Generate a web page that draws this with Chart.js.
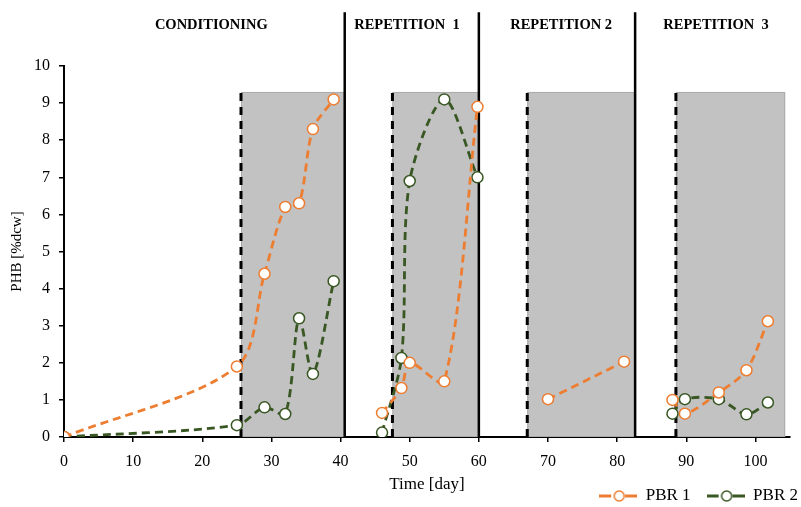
<!DOCTYPE html>
<html>
<head>
<meta charset="utf-8">
<script src="https://cdn.jsdelivr.net/npm/chart.js@4.4.1/dist/chart.umd.min.js"></script>
<style>
  html, body { margin: 0; padding: 0; background: #fff; }
  #wrap { width: 801px; height: 507px; }
</style>
</head>
<body>
<div id="wrap"><canvas id="chart"></canvas></div>
<script>
// measured values (day, PHB %dcw)
const condDays = [0, 25, 29, 32, 34, 36, 39];
const condPbr1 = [0, 1.9, 4.4, 6.2, 6.3, 8.3, 9.1];
const condPbr2 = [0, 0.32, 0.8, 0.62, 3.2, 1.7, 4.2];
const rep1Days = [46, 48.8, 50, 55, 59.8];
const rep1Pbr1 = [0.65, 1.32, 2.0, 1.5, 8.9];
const rep1Pbr2 = [0.12, 2.13, 6.9, 9.1, 7.0];
const rep2Days = [70, 81];
const rep2Pbr1 = [1.02, 2.03];
const rep3Days = [88, 89.8, 94.7, 98.7, 101.8];
const rep3Pbr1 = [1.0, 0.63, 1.2, 1.8, 3.12];
const rep3Pbr2 = [0.63, 1.02, 1.02, 0.61, 0.93];

// phases
const phaseNames = ['CONDITIONING', 'REPETITION  1', 'REPETITION 2', 'REPETITION  3'];
const phaseStart = [25.6, 47.5, 67.0, 88.5];   // dashed lines
const phaseEnd = [40.6, 60, 82.6, 104.3];      // end of grey block
const dividers = [40.6, 60, 82.6];             // solid lines
const shadeTop = 9.3;

const xTicks = [0, 10, 20, 30, 40, 50, 60, 70, 80, 90, 100];
const yTicks = [0, 1, 2, 3, 4, 5, 6, 7, 8, 9, 10];

// where the header texts sit (day, PHB units above the plot)
const labelDays = [21.3, 49.6, 71.9, 94.3];
const labelLevel = 11.1;
const dividerTop = 11.45;

const ORANGE = '#ED7D31';
const GREEN = '#385723';
const FONT = 'Liberation Serif';

// build one series from segments, with null gaps between them
function joinSegments(segs) {
  const out = [];
  segs.forEach((s, i) => {
    if (i > 0) out.push({ x: (out[out.length - 1].x + s[0][0]) / 2, y: null });
    s[0].forEach((d, j) => out.push({ x: d, y: s[1][j] }));
  });
  return out;
}

const pbr1Data = joinSegments([[condDays, condPbr1], [rep1Days, rep1Pbr1], [rep2Days, rep2Pbr1], [rep3Days, rep3Pbr1]]);
const pbr2Data = joinSegments([[condDays, condPbr2], [rep1Days, rep1Pbr2], [rep3Days, rep3Pbr2]]);

// legend symbol: dashed line with open circle
function legendIcon(color) {
  const c = document.createElement('canvas');
  c.width = 38; c.height = 14;
  const g = c.getContext('2d');
  g.strokeStyle = color;
  g.lineWidth = 3;
  g.beginPath(); g.moveTo(0, 7); g.lineTo(12, 7); g.moveTo(26, 7); g.lineTo(38, 7); g.stroke();
  g.lineWidth = 1.5;
  g.fillStyle = '#fff';
  g.beginPath(); g.arc(20, 7, 5, 0, Math.PI * 2); g.fill(); g.stroke();
  return c;
}

const phasePlugin = {
  id: 'phases',
  afterLayout(chart) {
    // push the legend to the right edge like the original
    const lg = chart.legend;
    lg.left += 24; lg.right += 24;
  },
  beforeDatasetsDraw(chart) {
    const { ctx, scales: { x, y } } = chart;
    const y0 = y.getPixelForValue(0);
    const yTop = y.getPixelForValue(shadeTop);
    ctx.save();
    // grey blocks
    phaseStart.forEach((s, i) => {
      const x1 = x.getPixelForValue(s);
      const x2 = x.getPixelForValue(phaseEnd[i]);
      ctx.fillStyle = '#c2c2c2';
      ctx.fillRect(x1, yTop, x2 - x1, y0 - yTop);
      ctx.strokeStyle = '#aaaaaa';
      ctx.lineWidth = 1;
      ctx.strokeRect(x1 + 0.5, yTop + 0.5, x2 - x1 - 1, y0 - yTop - 1);
    });
    // dashed start lines
    ctx.strokeStyle = '#000';
    ctx.lineWidth = 3;
    ctx.setLineDash([8, 6]);
    phaseStart.forEach(s => {
      const px = x.getPixelForValue(s);
      ctx.beginPath(); ctx.moveTo(px, y0); ctx.lineTo(px, yTop); ctx.stroke();
    });
    // solid dividers
    ctx.setLineDash([]);
    ctx.lineWidth = 2.5;
    dividers.forEach(d => {
      const px = x.getPixelForValue(d);
      ctx.beginPath(); ctx.moveTo(px, y0); ctx.lineTo(px, y.getPixelForValue(dividerTop)); ctx.stroke();
    });
    ctx.restore();
  },
  afterDraw(chart) {
    const { ctx, scales: { x, y } } = chart;
    ctx.save();
    ctx.font = 'bold 14.5px "' + FONT + '"';
    ctx.fillStyle = '#000';
    ctx.textAlign = 'center';
    ctx.textBaseline = 'middle';
    phaseNames.forEach((n, i) => {
      ctx.fillText(n, x.getPixelForValue(labelDays[i]), y.getPixelForValue(labelLevel));
    });
    ctx.restore();
  }
};

const lineStyle = (color) => ({
  borderColor: color,
  backgroundColor: color,
  borderWidth: 2.8,
  borderDash: [8, 5],
  tension: 0.3,
  spanGaps: false,
  pointRadius: 5.5,
  pointHoverRadius: 5.5,
  pointBorderWidth: 1.5,
  pointBorderColor: color,
  pointBackgroundColor: '#fff'
});

new Chart(document.getElementById('chart'), {
  type: 'line',
  data: {
    datasets: [
      Object.assign({ label: 'PBR 1', data: pbr1Data }, lineStyle(ORANGE)),
      Object.assign({ label: 'PBR 2', data: pbr2Data }, lineStyle(GREEN))
    ]
  },
  options: {
    responsive: true,
    maintainAspectRatio: false,
    animation: false,
    layout: { padding: { top: 66, left: 0, right: 11, bottom: -7.5 } },
    plugins: {
      tooltip: { enabled: false },
      legend: {
        position: 'bottom',
        align: 'end',
        labels: {
          usePointStyle: true,
          pointStyleWidth: 38,
          padding: 16,
          color: '#000',
          font: { family: FONT, size: 17 },
          generateLabels(chart) {
            return chart.data.datasets.map((ds, i) => ({
              text: ds.label,
              fillStyle: '#fff',
              strokeStyle: ds.borderColor,
              lineWidth: 0,
              pointStyle: legendIcon(ds.borderColor),
              fontColor: '#000',
              datasetIndex: i
            }));
          }
        }
      }
    },
    scales: {
      x: {
        type: 'linear',
        min: 0,
        max: 105,
        afterBuildTicks: (s) => { s.ticks = xTicks.map(v => ({ value: v })); },
        afterFit: (s) => { s.height = 34.5; },
        grid: { drawOnChartArea: false, drawTicks: true, tickLength: 5, color: '#000', lineWidth: 1.5 },
        border: { color: '#000', width: 2 },
        ticks: { color: '#000', padding: 10, font: { family: FONT, size: 16 } },
        title: { display: true, text: 'Time [day]', color: '#000', padding: { top: 0, bottom: -23.7 }, font: { family: FONT, size: 17 } }
      },
      y: {
        min: 0,
        max: 10,
        afterBuildTicks: (s) => { s.ticks = yTicks.map(v => ({ value: v })); },
        afterFit: (s) => { s.width = 64; },
        grid: { drawOnChartArea: false, drawTicks: true, tickLength: 5, color: '#000', lineWidth: 1.5 },
        border: { color: '#000', width: 2 },
        ticks: { color: '#000', padding: 9, font: { family: FONT, size: 16 } },
        title: { display: true, text: 'PHB [%dcw]', color: '#000', padding: { top: 8, bottom: 0 }, font: { family: FONT, size: 15 } }
      }
    }
  },
  plugins: [phasePlugin]
});
</script>
</body>
</html>
